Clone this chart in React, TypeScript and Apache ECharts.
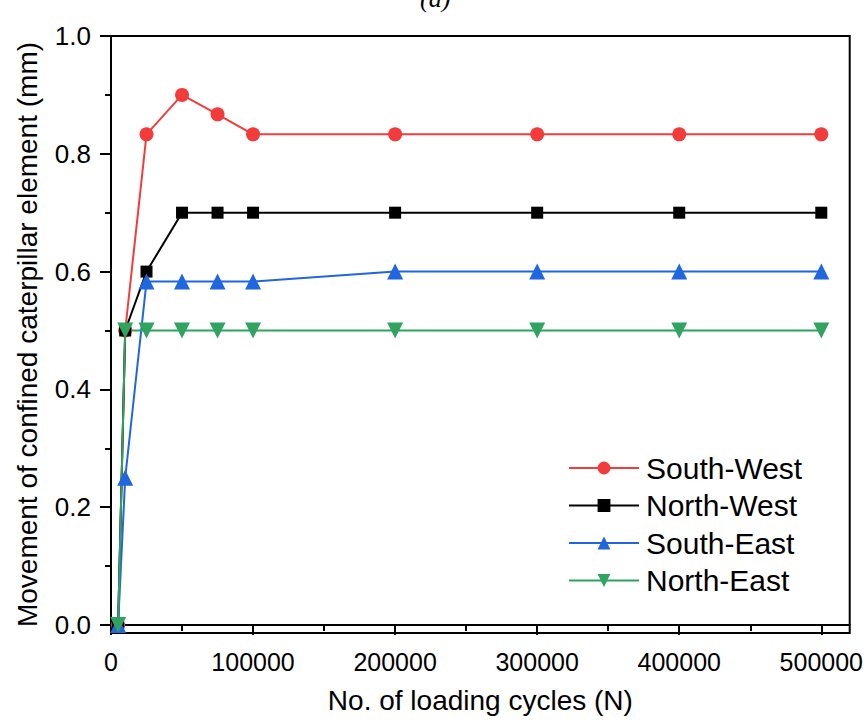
import React, { useEffect, useRef } from "react";
import * as echarts from "echarts";

const cycles = [5000, 10000, 25000, 50000, 75000, 100000, 200000, 300000, 400000, 500000];
const southWest = [0, 0.5, 0.833, 0.9, 0.867, 0.833, 0.833, 0.833, 0.833, 0.833];
const northWest = [0, 0.5, 0.6, 0.7, 0.7, 0.7, 0.7, 0.7, 0.7, 0.7];
const southEast = [0, 0.25, 0.583, 0.583, 0.583, 0.583, 0.6, 0.6, 0.6, 0.6];
const northEast = [0, 0.5, 0.5, 0.5, 0.5, 0.5, 0.5, 0.5, 0.5, 0.5];

const xMajorTicks = [0, 100000, 200000, 300000, 400000, 500000];
const xMinorTicks = [50000, 150000, 250000, 350000, 450000];
const yMajorTicks = [0, 0.2, 0.4, 0.6, 0.8, 1.0];
const yMinorTicks = [0.1, 0.3, 0.5, 0.7, 0.9];

const FONT = "Liberation Sans, Arial, sans-serif";

export default function App() {
  const ref = useRef<HTMLDivElement>(null);
  useEffect(() => {
    if (!ref.current) return;
    const chart = echarts.init(ref.current, null, { renderer: "svg" });
    const pair = (ys: number[]) => cycles.map((x, i) => [x, ys[i]]);
    const mk = (name: string, ys: number[], color: string, symbol: string, size: number, rotate = 0) => ({
      name,
      type: "line",
      data: pair(ys),
      symbol,
      symbolSize: size,
      symbolRotate: rotate,
      showAllSymbol: true,
      lineStyle: { color, width: 2 },
      itemStyle: { color },
      xAxisIndex: 0,
      yAxisIndex: 0,
      z: 3,
    });
    chart.setOption({
      animation: false,
      backgroundColor: "#ffffff",
      textStyle: { fontFamily: FONT },
      graphic: [
        {
          type: "text",
          left: 420,
          top: -15,
          style: { text: "(a)", font: "italic 26px 'Liberation Serif', serif", fill: "#000" },
        },
      ],
      grid: {
        left: 111,
        right: 16,
        top: 36,
        bottom: 94,
        show: true,
        borderColor: "#000",
        borderWidth: 2,
        backgroundColor: "transparent",
      },
      legend: {
        orient: "vertical",
        left: 563,
        top: 448,
        itemWidth: 70,
        itemHeight: 16,
        itemGap: 7.5,
        textStyle: { fontSize: 30, lineHeight: 30, color: "#000", fontFamily: FONT, padding: [0, 0, 0, 2] },
        data: ["South-West", "North-West", "South-East", "North-East"],
      },
      xAxis: [
        {
          type: "value",
          min: 0,
          max: 520000,
          position: "bottom",
          name: "No. of loading cycles (N)",
          nameLocation: "middle",
          nameGap: 53,
          nameTextStyle: { fontSize: 28, color: "#000", fontFamily: FONT },
          axisLine: { show: true, lineStyle: { color: "#000", width: 2 } },
          axisTick: { show: true, customValues: xMajorTicks, length: 10, lineStyle: { color: "#000", width: 2 } },
          axisLabel: {
            show: true,
            customValues: xMajorTicks,
            fontSize: 25,
            color: "#000",
            margin: 16,
            fontFamily: FONT,
            formatter: (v: number) => String(Math.round(v)),
          },
          splitLine: { show: false },
        },
        {
          type: "value",
          min: 0,
          max: 520000,
          position: "bottom",
          axisLine: { show: false },
          axisTick: { show: true, customValues: xMinorTicks, length: 6, lineStyle: { color: "#000", width: 2 } },
          axisLabel: { show: false },
          splitLine: { show: false },
        },
      ],
      yAxis: [
        {
          type: "value",
          min: -0.0136,
          max: 1.0,
          position: "left",
          name: "Movement of confined caterpillar element (mm)",
          nameLocation: "middle",
          nameGap: 70,
          nameTextStyle: { fontSize: 28, color: "#000", fontFamily: FONT },
          axisLine: { show: true, lineStyle: { color: "#000", width: 2 } },
          axisTick: { show: true, customValues: yMajorTicks, length: 11, lineStyle: { color: "#000", width: 2 } },
          axisLabel: {
            show: true,
            customValues: yMajorTicks,
            fontSize: 26,
            color: "#000",
            margin: 20,
            fontFamily: FONT,
            formatter: (v: number) => v.toFixed(1),
          },
          splitLine: { show: false },
        },
        {
          type: "value",
          min: -0.0136,
          max: 1.0,
          position: "left",
          axisLine: { show: false },
          axisTick: { show: true, customValues: yMinorTicks, length: 6, lineStyle: { color: "#000", width: 2 } },
          axisLabel: { show: false },
          splitLine: { show: false },
        },
      ],
      series: [
        mk("South-West", southWest, "#F23C3C", "circle", 14),
        mk("North-West", northWest, "#000000", "rect", 12),
        mk("South-East", southEast, "#1F66E0", "triangle", 16),
        mk("North-East", northEast, "#2FA35F", "triangle", 16, 180),
      ],
    });
    return () => chart.dispose();
  }, []);
  return <div ref={ref} style={{ width: 866, height: 727, position: "absolute", left: 0, top: 0 }} />;
}
